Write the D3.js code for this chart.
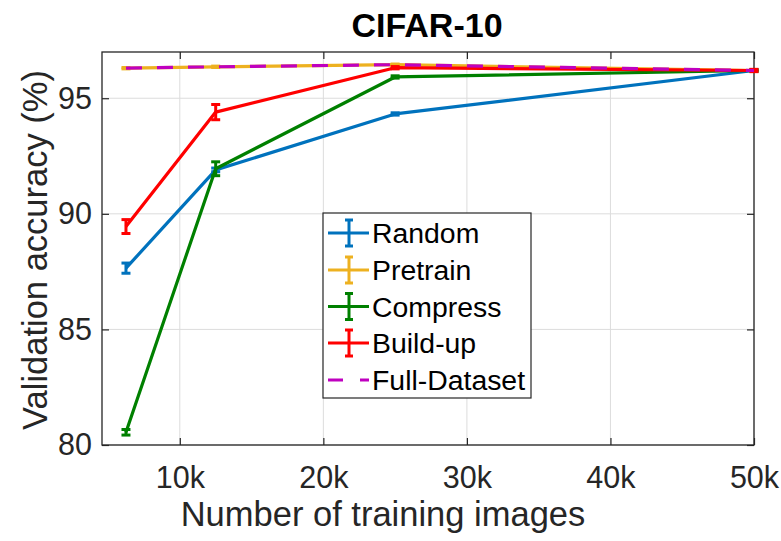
<!DOCTYPE html>
<html><head><meta charset="utf-8">
<script src="https://cdn.jsdelivr.net/npm/d3@7"></script>
<style>body{margin:0;background:#fff}svg{display:block}text{font-family:"Liberation Sans",Arial,sans-serif}</style>
</head><body><svg id="c" width="781" height="541"></svg>
<script>
const xs = [6250, 12500, 25000, 50000];
const xTicks = [10000, 20000, 30000, 40000, 50000];
const xTickLabels = ["10k", "20k", "30k", "40k", "50k"];
const yTicks = [80, 85, 90, 95];
const randomVals = [87.65, 91.9, 94.32, 96.2];
const randomErr = [0.22, 0.08, 0.05, 0.03];
const pretrainVals = [96.3, 96.36, 96.45, 96.2];
const pretrainErr = [0.03, 0.03, 0.03, 0.03];
const compressVals = [80.55, 91.95, 95.92, 96.2];
const compressErr = [0.12, 0.3, 0.05, 0.03];
const buildupVals = [89.45, 94.4, 96.32, 96.2];
const buildupErr = [0.3, 0.33, 0.05, 0.05];
const fullVals = [96.3, 96.36, 96.45, 96.2];
const seriesNames = ["Random", "Pretrain", "Compress", "Build-up", "Full-Dataset"];
const colors = ["#0072BD", "#EDB120", "#008000", "#FF0000", "#BF00BF"];

const svg = d3.select("#c");
const L = 102, R = 754, T = 52, B = 445;
const x = d3.scaleLinear().domain([4580, 50000]).range([L, R]);
const y = d3.scaleLinear().domain([80, 97]).range([B, T]);

// grid
const g = svg.append("g");
g.selectAll(".gx").data(xTicks).enter().append("line")
  .attr("x1", d => x(d)).attr("x2", d => x(d)).attr("y1", T).attr("y2", B)
  .attr("stroke", "#dcdcdc").attr("stroke-width", 1);
g.selectAll(".gy").data(yTicks).enter().append("line")
  .attr("x1", L).attr("x2", R).attr("y1", d => y(d)).attr("y2", d => y(d))
  .attr("stroke", "#dcdcdc").attr("stroke-width", 1);

// axes
const xAxis = d3.axisBottom(x).tickValues(xTicks).tickFormat((d, i) => xTickLabels[i]).tickSizeInner(-7).tickSizeOuter(0).tickPadding(21);
const yAxis = d3.axisLeft(y).tickValues(yTicks).tickSizeInner(-7).tickSizeOuter(0).tickPadding(10);
const ax = svg.append("g").attr("transform", `translate(0,${B})`).call(xAxis);
const ay = svg.append("g").attr("transform", `translate(${L},0)`).call(yAxis);
const axTop = svg.append("g").attr("transform", `translate(0,${T})`).call(d3.axisTop(x).tickValues(xTicks).tickFormat("").tickSizeInner(-7).tickSizeOuter(0));
const ayR = svg.append("g").attr("transform", `translate(${R},0)`).call(d3.axisRight(y).tickValues(yTicks).tickFormat("").tickSizeInner(-7).tickSizeOuter(0));
[ax, ay, axTop, ayR].forEach(a => {
  a.select(".domain").remove();
  a.selectAll("line").attr("stroke", "#262626").attr("stroke-width", 1.2);
  a.selectAll("text").attr("fill", "#262626").style("font-size", "30.5px").style("font-family", "'Liberation Sans',Arial,sans-serif");
});
ax.selectAll("text").attr("dy", "0.71em");
svg.append("rect").attr("x", L).attr("y", T).attr("width", R - L).attr("height", B - T)
  .attr("fill", "none").attr("stroke", "#262626").attr("stroke-width", 1.3);

// series
const data = [
  [randomVals, randomErr], [pretrainVals, pretrainErr], [compressVals, compressErr], [buildupVals, buildupErr]
];
const line = d3.line().x(d => x(d[0])).y(d => y(d[1]));
const plot = svg.append("g");
data.forEach(([vals, errs], i) => {
  const pts = xs.map((xv, j) => [xv, vals[j], errs[j]]);
  plot.append("path").datum(pts).attr("d", line).attr("fill", "none")
    .attr("stroke", colors[i]).attr("stroke-width", 3.2).attr("stroke-linejoin", "round");
  const eb = plot.append("g").attr("stroke", colors[i]).attr("stroke-width", 3);
  pts.forEach(p => {
    const cx = x(p[0]), y1 = y(p[1] + p[2]), y2 = y(p[1] - p[2]);
    eb.append("line").attr("x1", cx).attr("x2", cx).attr("y1", y1).attr("y2", y2);
    eb.append("line").attr("x1", cx - 4.5).attr("x2", cx + 4.5).attr("y1", y1).attr("y2", y1);
    eb.append("line").attr("x1", cx - 4.5).attr("x2", cx + 4.5).attr("y1", y2).attr("y2", y2);
  });
});
plot.append("path").datum(xs.map((xv, j) => [xv, fullVals[j]])).attr("d", line).attr("fill", "none")
  .attr("stroke", colors[4]).attr("stroke-width", 3.2).attr("stroke-dasharray", "16 15");

// legend
const lx = 323, ly = 213, lw = 208, lh = 185;
svg.append("rect").attr("x", lx).attr("y", ly).attr("width", lw).attr("height", lh)
  .attr("fill", "#fff").attr("stroke", "#262626").attr("stroke-width", 1.2);
const rowY = [233, 270, 306.5, 343, 380];
seriesNames.forEach((n, i) => {
  const yy = rowY[i];
  const lg = svg.append("g").attr("stroke", colors[i]).attr("stroke-width", 3);
  if (i < 4) {
    lg.append("line").attr("x1", lx + 5).attr("x2", lx + 46).attr("y1", yy).attr("y2", yy);
    lg.append("line").attr("x1", lx + 26).attr("x2", lx + 26).attr("y1", yy - 13).attr("y2", yy + 13);
    lg.append("line").attr("x1", lx + 22).attr("x2", lx + 30).attr("y1", yy - 13).attr("y2", yy - 13);
    lg.append("line").attr("x1", lx + 22).attr("x2", lx + 30).attr("y1", yy + 13).attr("y2", yy + 13);
  } else {
    lg.append("line").attr("x1", lx + 5).attr("x2", lx + 46).attr("y1", yy).attr("y2", yy)
      .attr("stroke-dasharray", "15 17");
  }
  svg.append("text").attr("x", lx + 49).attr("y", yy).attr("dy", "0.36em")
    .style("font-size", "28.4px").attr("fill", "#000").text(n);
});

// labels
svg.append("text").attr("x", 427).attr("y", 37).attr("text-anchor", "middle")
  .style("font-size", "34px").style("font-weight", "bold").attr("fill", "#000").text("CIFAR-10");
svg.append("text").attr("x", 383).attr("y", 526).attr("text-anchor", "middle")
  .style("font-size", "34.5px").attr("fill", "#262626").text("Number of training images");
svg.append("text").attr("transform", `translate(47,250) rotate(-90)`).attr("text-anchor", "middle")
  .style("font-size", "34.5px").attr("fill", "#262626").text("Validation accuracy (%)");
</script></body></html>
